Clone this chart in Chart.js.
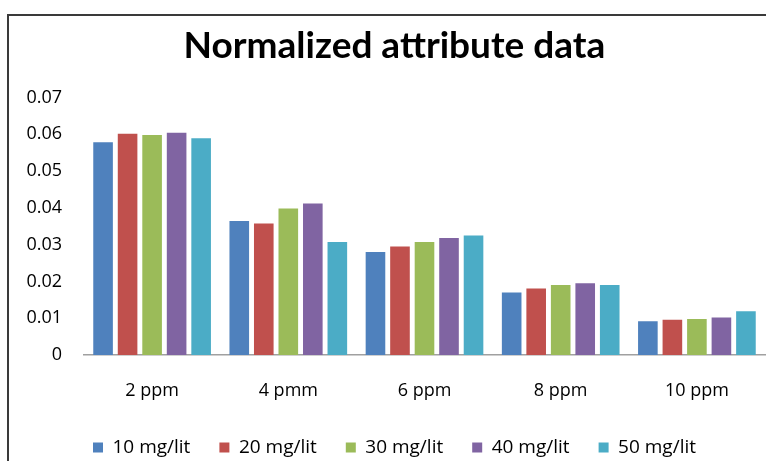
<!DOCTYPE html>
<html>
<head>
<meta charset="utf-8">
<script src="https://cdn.jsdelivr.net/npm/chart.js@4"></script>
<style>
  body { margin: 0; background: #fff; }
  #wrap { position: relative; width: 766px; height: 461px; overflow: hidden; }
  #frame { position: absolute; left: 7px; top: 14px; width: 800px; height: 500px;
           border-top: 2px solid #3a3a3a; border-left: 2px solid #3a3a3a; pointer-events: none; }
  canvas { position: absolute; left: 0; top: 0; }
</style>
</head>
<body>
<div id="wrap">
  <canvas id="chart" width="766" height="461"></canvas>
  <div id="frame"></div>
</div>
<script>
const categories = ['2 ppm', '4 pmm', '6 ppm', '8 ppm', '10 ppm'];
const seriesNames = ['10 mg/lit', '20 mg/lit', '30 mg/lit', '40 mg/lit', '50 mg/lit'];
const mg10 = [0.0578, 0.0364, 0.0280, 0.0170, 0.0092];
const mg20 = [0.0601, 0.0357, 0.0295, 0.0181, 0.0096];
const mg30 = [0.0598, 0.0398, 0.0307, 0.0190, 0.0098];
const mg40 = [0.0604, 0.0412, 0.0318, 0.0195, 0.0102];
const mg50 = [0.0589, 0.0307, 0.0325, 0.0190, 0.0119];
const colors = ['#4f81bd', '#c0504d', '#9bbb59', '#8064a2', '#4bacc6'];

const font = 'Open Sans';
const values = [mg10, mg20, mg30, mg40, mg50];

const chart = new Chart(document.getElementById('chart'), {
    type: 'bar',
    data: {
        labels: categories,
        datasets: values.map((d, i) => ({
            label: seriesNames[i],
            data: d,
            backgroundColor: colors[i],
            borderWidth: 0,
            categoryPercentage: 0.9,
            barPercentage: 0.8
        }))
    },
    options: {
        responsive: false,
        animation: false,
        layout: { padding: { left: 24, right: 1, top: 0, bottom: -6 } },
        plugins: {
            title: {
                display: true,
                text: 'Normalized attribute data',
                color: '#000',
                font: { family: 'Lato', size: 37, weight: 'bold' },
                padding: { top: 24, bottom: 29 }
            },
            legend: {
                position: 'bottom',
                labels: {
                    color: '#000',
                    font: { family: font, size: 19 },
                    boxWidth: 10,
                    boxHeight: 10,
                    padding: 29
                }
            },
            tooltip: { enabled: false }
        },
        scales: {
            x: {
                grid: { display: false, drawTicks: false },
                border: { display: true, color: '#a0a0a0', width: 1.5 },
                ticks: { color: '#000', font: { family: font, size: 18 }, padding: 25, maxRotation: 0 },
                afterFit: (scale) => { scale.height = 54; }
            },
            y: {
                min: 0,
                max: 0.07,
                grid: { display: false, drawTicks: false },
                border: { display: false },
                ticks: {
                    stepSize: 0.01,
                    color: '#000',
                    font: { family: font, size: 18 },
                    padding: 22,
                    callback: (v) => v === 0 ? '0' : v.toFixed(2)
                },
                afterFit: (scale) => { scale.width = 60; }
            }
        }
    }
});
</script>
</body>
</html>
